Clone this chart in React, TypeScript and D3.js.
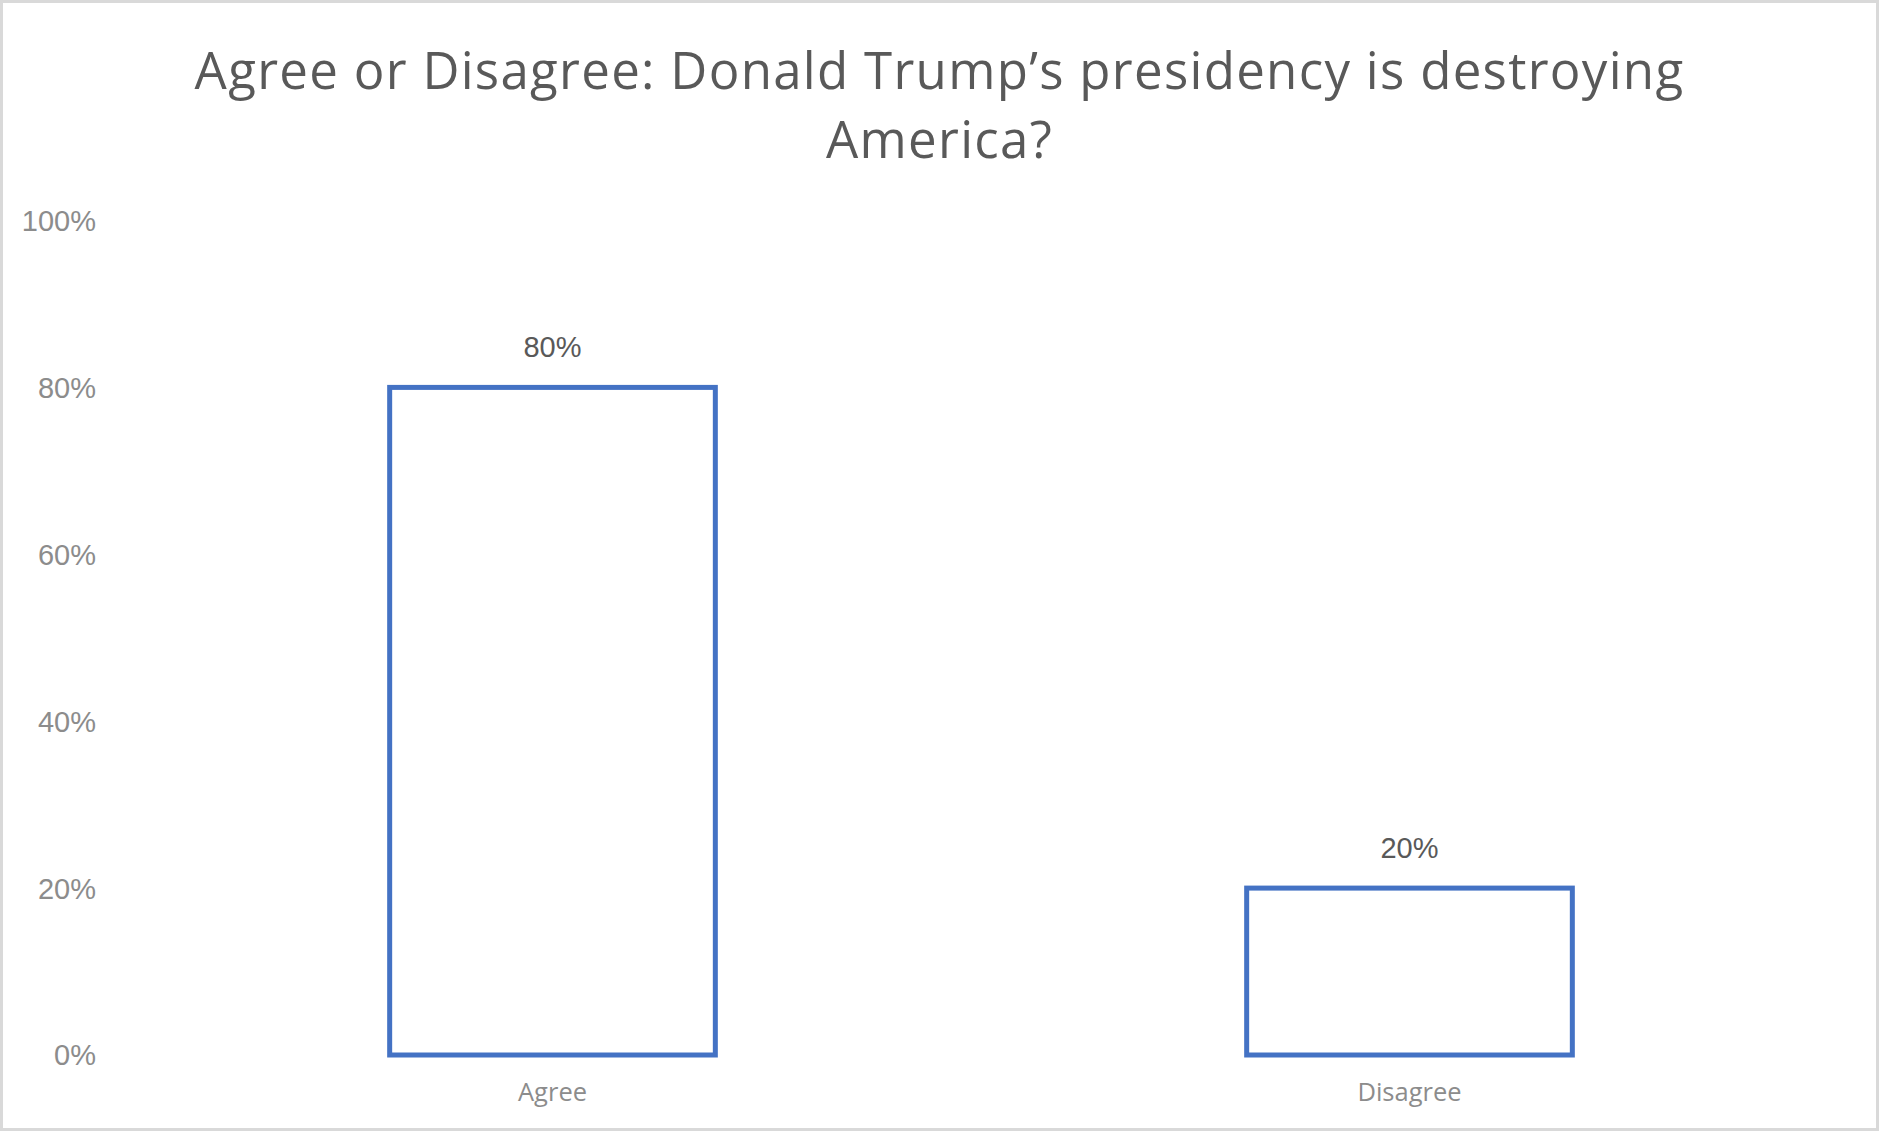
import React from "react";
import * as d3 from "d3";

const categories = ["Agree", "Disagree"];
const values = [0.8, 0.2];
const yTicks = [0, 0.2, 0.4, 0.6, 0.8, 1.0];
const titleLines = ["Agree or Disagree: Donald Trump\u2019s presidency is destroying", "America?"];

const W = 1879;
const H = 1131;

export default function App() {
  const x = d3.scaleBand<string>().domain(categories).range([124, 1838]).paddingInner(0.62).paddingOuter(0.31);
  const y = d3.scaleLinear().domain([0, 1]).range([1055, 220.5]);
  const fmt = d3.format(".0%");
  return (
    <div style={{ position: "absolute", left: 0, top: 0 }}>
      <svg width={W} height={H} style={{ display: "block", background: "#fff" }}>
        <rect x={1.5} y={1.5} width={W - 3} height={H - 3} fill="#fff" stroke="#d9d9d9" strokeWidth={3} />
        {titleLines.map((t, i) => (
          <text key={i} x={W / 2} y={89 + i * 69} textAnchor="middle" fontFamily="'Open Sans', sans-serif" fontSize={51} letterSpacing={1.3} fill="#595959">
            {t}
          </text>
        ))}
        {yTicks.map((t) => (
          <text key={t} x={96} y={y(t)} dy="0.36em" textAnchor="end" fontFamily="'Liberation Sans', Arial, sans-serif" fontSize={29} fill="#8c8c8c">
            {fmt(t)}
          </text>
        ))}
        {categories.map((c, i) => {
          const x0 = x(c)!;
          const bw = x.bandwidth();
          return (
            <g key={c}>
              <rect x={x0} y={y(values[i])} width={bw} height={y(0) - y(values[i])} fill="#fff" stroke="#4472c4" strokeWidth={5} />
              <text x={x0 + bw / 2} y={y(values[i]) - 30} textAnchor="middle" fontFamily="'Liberation Sans', Arial, sans-serif" fontSize={29} fill="#595959">
                {fmt(values[i])}
              </text>
              <text x={x0 + bw / 2} y={1101} textAnchor="middle" fontFamily="'Open Sans', sans-serif" fontSize={25.5} fill="#8c8c8c">
                {c}
              </text>
            </g>
          );
        })}
      </svg>
    </div>
  );
}
